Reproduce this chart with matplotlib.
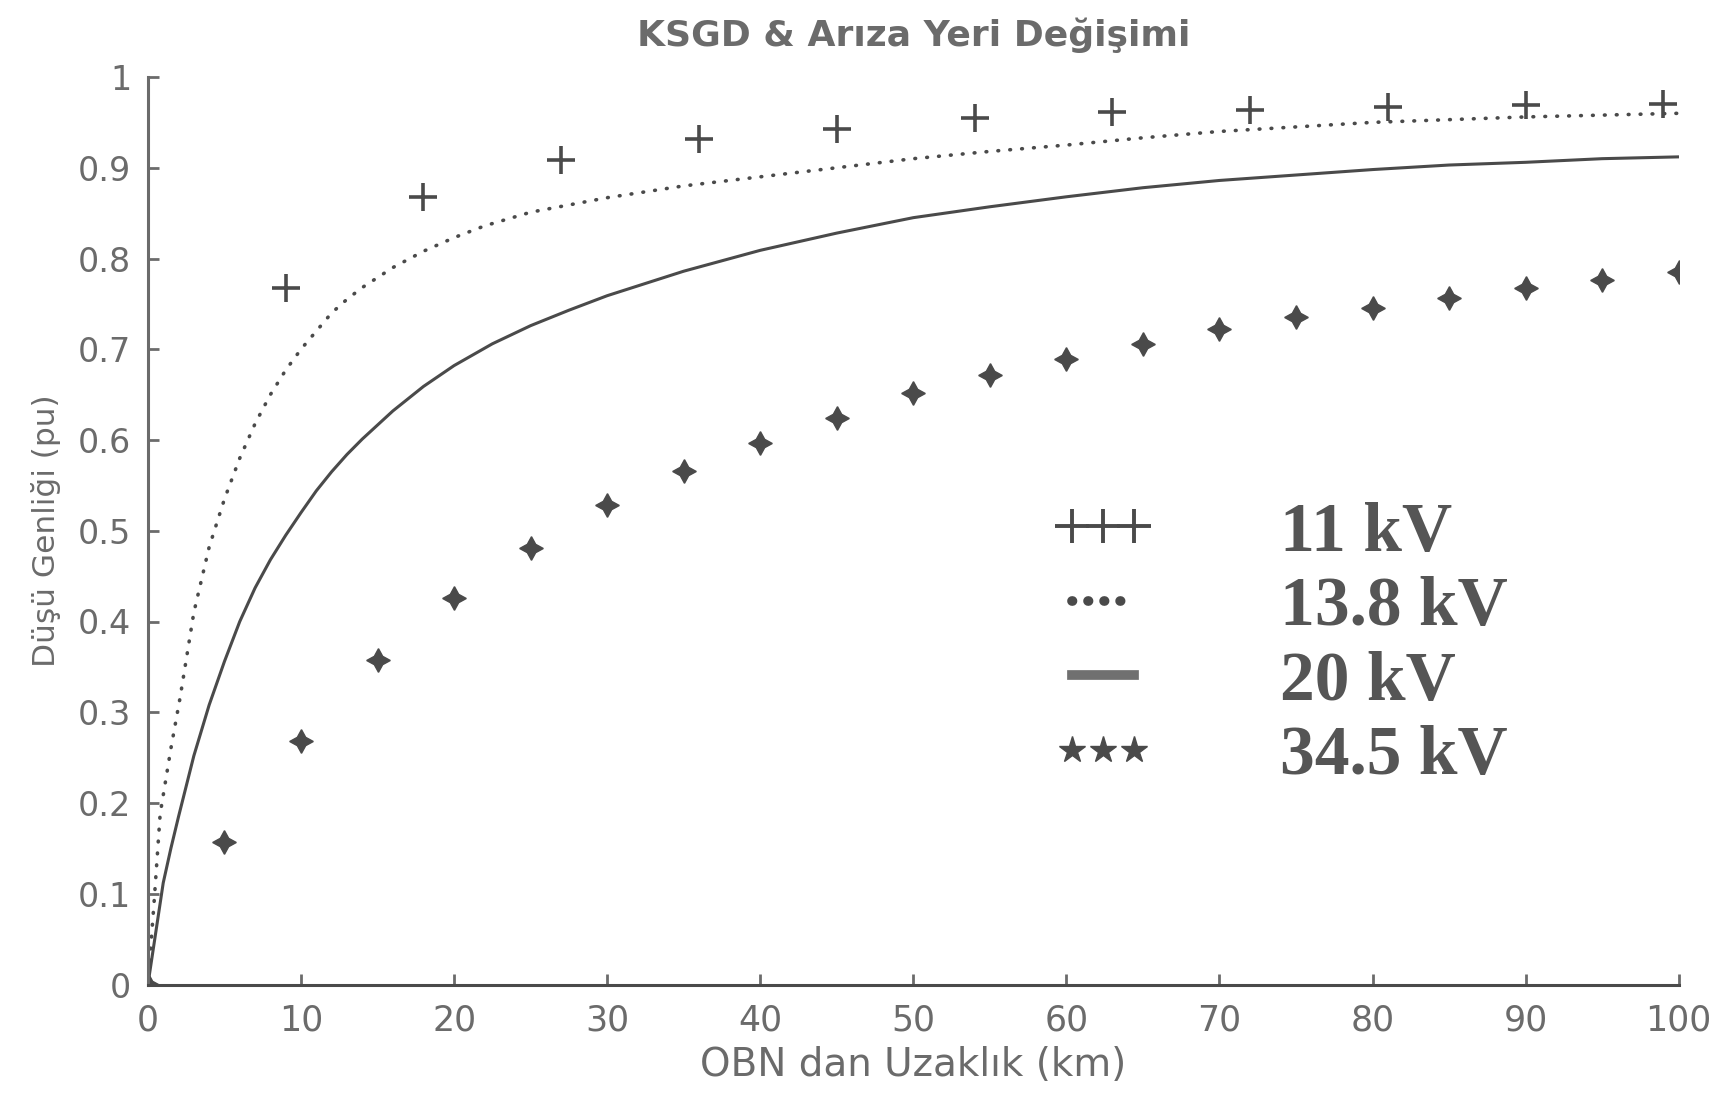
import numpy as np
import matplotlib
matplotlib.use("Agg")
import matplotlib.pyplot as plt
from matplotlib.lines import Line2D

# 11 kV (+ isaretleri)
x_11 = [9, 18, 27, 36, 45, 54, 63, 72, 81, 90, 99]
y_11 = [0.768, 0.868, 0.908, 0.932, 0.943, 0.955, 0.961, 0.964, 0.967, 0.969, 0.970]

# 13.8 kV (noktali egri)
x_138 = [0, 0.4, 0.8, 1.5, 2.1, 3, 4, 5, 6, 7, 8, 9, 10, 11, 12, 13, 14, 16, 18, 20,
         22, 25, 30, 35, 40, 45, 50, 55, 60, 65, 70, 75, 80, 85, 90, 95, 100]
y_138 = [0, 0.09, 0.188, 0.26, 0.316, 0.41, 0.482, 0.535, 0.58, 0.618, 0.65, 0.677,
         0.70, 0.72, 0.74, 0.755, 0.768, 0.79, 0.808, 0.823, 0.836, 0.851, 0.867,
         0.88, 0.89, 0.90, 0.91, 0.918, 0.925, 0.933, 0.94, 0.945, 0.95, 0.953,
         0.956, 0.958, 0.96]

# 20 kV (duz egri)
x_20 = [0, 0.5, 1, 1.5, 2, 3, 4, 5, 6, 7, 8, 9, 10, 11, 12, 13, 14, 16, 18, 20, 22.5,
        25, 27.5, 30, 35, 40, 45, 50, 55, 60, 65, 70, 75, 80, 85, 90, 95, 100]
y_20 = [0, 0.056, 0.112, 0.15, 0.185, 0.252, 0.308, 0.356, 0.40, 0.437, 0.468,
        0.495, 0.52, 0.544, 0.565, 0.584, 0.601, 0.632, 0.659, 0.682, 0.706, 0.726,
        0.743, 0.759, 0.786, 0.809, 0.828, 0.845, 0.857, 0.868, 0.878, 0.886, 0.892,
        0.898, 0.903, 0.906, 0.91, 0.912]

# 34.5 kV (yildiz isaretleri)
x_345 = [0, 5, 10, 15, 20, 25, 30, 35, 40, 45, 50, 55, 60, 65, 70, 75, 80, 85, 90, 95, 100]
y_345 = [0, 0.157, 0.268, 0.358, 0.426, 0.481, 0.528, 0.566, 0.597, 0.624, 0.652,
         0.672, 0.689, 0.706, 0.722, 0.735, 0.745, 0.757, 0.767, 0.776, 0.785]

labels = ["11 kV", "13.8 kV", "20 kV", "34.5 kV"]
x_ticks = list(range(0, 101, 10))
y_ticks = [i / 10 for i in range(11)]
y_ticklabels = ["0", "0.1", "0.2", "0.3", "0.4", "0.5", "0.6", "0.7", "0.8", "0.9", "1"]

gray = "#6b6b6b"
dark = "#4a4a4a"

fig = plt.figure(figsize=(17.2, 11), dpi=100)
ax = fig.add_axes([0.086, 0.105, 0.89, 0.825])

ax.plot(x_20, y_20, color=dark, lw=2.2)
ax.plot(x_138, y_138, color=dark, lw=2.6, linestyle=(0, (0.2, 3.1)),
        dash_capstyle="round")
ax.plot(x_11, y_11, linestyle="none", marker="+", ms=20, mew=2.6, color=dark)
ax.plot(x_345, y_345, linestyle="none", marker=(4, 1, 0), ms=17, color=dark)

ax.set_xlim(0, 100)
ax.set_ylim(0, 1)
ax.set_xticks(x_ticks)
ax.set_yticks(y_ticks)
ax.set_yticklabels(y_ticklabels)
for s in ["top", "right"]:
    ax.spines[s].set_visible(False)
for s in ["left", "bottom"]:
    ax.spines[s].set_color(gray)
    ax.spines[s].set_linewidth(2.2)
ax.spines["bottom"].set_color(dark)
ax.tick_params(direction="in", length=8, width=2, colors=gray, labelsize=24, pad=12)
ax.tick_params(axis="x", labelsize=25, pad=14)

ax.set_title("KSGD & Arıza Yeri Değişimi", fontsize=26, fontweight="bold",
             color=gray, pad=22)
ax.set_xlabel("OBN dan Uzaklık (km)", fontsize=28, color=gray, labelpad=6)
ax.set_ylabel("Düşü Genliği (pu)", fontsize=22.5, color=gray, labelpad=12)

handles = [
    Line2D([], [], color=dark, lw=1.5, marker="+", ms=24, mew=2.8),
    Line2D([], [], color=dark, lw=7, linestyle=(0, (0.05, 1.6)), dash_capstyle="round"),
    Line2D([], [], color="#707070", lw=7),
    Line2D([], [], color=dark, linestyle="none", marker="*", ms=20),
]
leg = ax.legend(handles, labels, loc="upper left", bbox_to_anchor=(0.59, 0.532),
                frameon=False, numpoints=3, handlelength=1.5, handletextpad=1.8,
                labelspacing=0.15, borderpad=0, borderaxespad=0,
                prop={"family": "Liberation Serif", "weight": "bold", "size": 50})
for t in leg.get_texts():
    t.set_color("#555555")

fig.savefig("out.png", dpi=100, facecolor="white")
